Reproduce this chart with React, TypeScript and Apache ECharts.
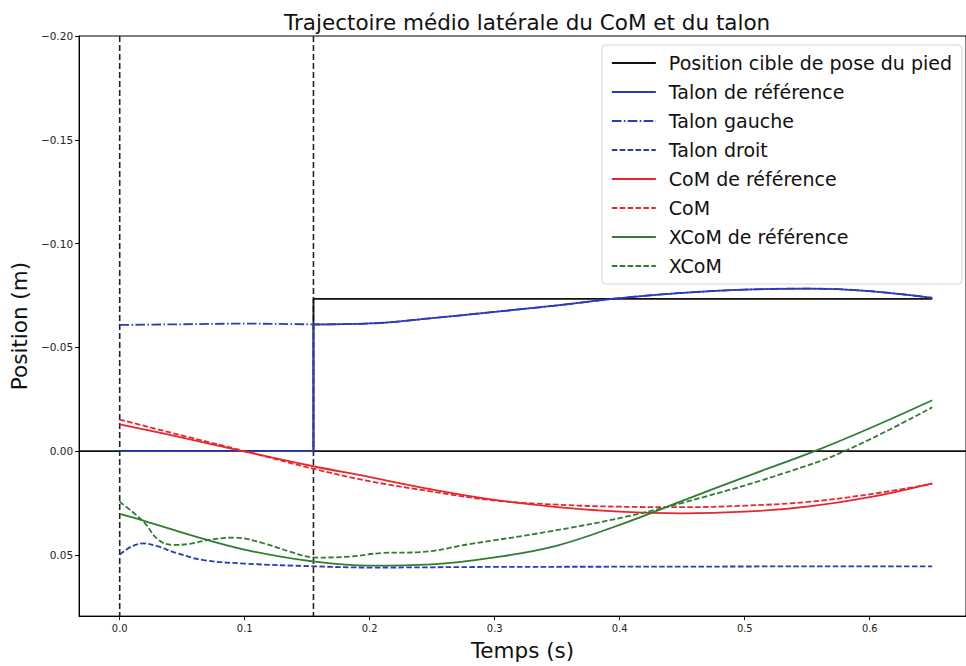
import React, { useEffect, useRef } from "react";
import * as echarts from "echarts";

// ---- Data ----
const xMin = -0.0325;
const xMax = 0.677;
const yMin = -0.2;
const yMax = 0.0795;

const eventTimes = [0, 0.155];
const zeroLevel = 0;

const targetT = [0, 0.155, 0.155, 0.65];
const targetY = [0, 0, -0.0733, -0.0733];

const heelRefStepT = [0, 0.155, 0.155];
const heelRefStepY = [0, 0, -0.061];
const heelRefT = [0.155, 0.2, 0.25, 0.3, 0.35, 0.4, 0.45, 0.5, 0.55, 0.6, 0.65];
const heelRefY = [-0.061, -0.0615, -0.0641, -0.0671, -0.0702, -0.0737, -0.0762, -0.0778, -0.0783, -0.0771, -0.0738];

const heelLeftT = [0, 0.05, 0.1, 0.155, 0.2, 0.25, 0.3, 0.35, 0.4, 0.45, 0.5, 0.55, 0.6, 0.65];
const heelLeftY = [-0.0608, -0.0611, -0.0614, -0.0611, -0.0615, -0.0641, -0.0671, -0.0702, -0.0737, -0.0762, -0.0778, -0.0783, -0.0771, -0.0738];

const heelRightT = [0, 0.01, 0.019, 0.03, 0.045, 0.067, 0.1, 0.155, 0.2, 0.3, 0.4, 0.5, 0.6, 0.65];
const heelRightY = [0.0499, 0.0458, 0.0445, 0.0458, 0.049, 0.0525, 0.0542, 0.0555, 0.0561, 0.0558, 0.0557, 0.0556, 0.0555, 0.0555];

const comRefT = [0, 0.05, 0.1, 0.155, 0.2, 0.25, 0.3, 0.35, 0.4, 0.45, 0.5, 0.55, 0.6, 0.65];
const comRefY = [-0.0129, -0.0065, 0.0002, 0.0073, 0.0125, 0.0185, 0.0235, 0.027, 0.0292, 0.03, 0.0292, 0.0268, 0.0222, 0.0155];

const comT = [0, 0.05, 0.1, 0.155, 0.2, 0.25, 0.3, 0.35, 0.4, 0.45, 0.5, 0.55, 0.6, 0.65];
const comY = [-0.0152, -0.0075, 0.0, 0.0085, 0.0145, 0.0195, 0.0238, 0.0258, 0.0268, 0.027, 0.0263, 0.0245, 0.0208, 0.0158];

const xcomRefT = [0, 0.02, 0.07, 0.107, 0.155, 0.2, 0.25, 0.3, 0.35, 0.4, 0.45, 0.5, 0.556, 0.6, 0.65];
const xcomRefY = [0.0303, 0.0337, 0.0428, 0.0484, 0.0532, 0.0552, 0.0546, 0.0512, 0.0455, 0.0355, 0.024, 0.0125, 0.0, -0.011, -0.0245];

const xcomT = [0, 0.019, 0.031, 0.043, 0.056, 0.071, 0.092, 0.115, 0.136, 0.157, 0.184, 0.21, 0.24, 0.28, 0.343, 0.405, 0.468, 0.53, 0.58, 0.65];
const xcomY = [0.0244, 0.034, 0.0428, 0.0452, 0.0447, 0.0428, 0.0417, 0.0444, 0.0484, 0.0513, 0.0508, 0.0491, 0.0487, 0.0448, 0.0388, 0.0316, 0.022, 0.0109, 0.0, -0.0211];

const zip = (t: number[], y: number[]) => t.map((v, i) => [v, y[i]]);

const FONT = "DejaVu Sans";
const NARROW = "'DejaVu Sans Condensed', 'Liberation Sans Narrow', 'DejaVu Sans'";
const BLUE = "#2a3bbd";
const RED = "#e8262d";
const GREEN = "#2f7d32";
const LW = 1.8;
const DASH = [5.5, 2.4];
const DASHDOT = [9.6, 2.4, 1.5, 2.4];

const legendNames = [
  "Position cible de pose du pied",
  "Talon de référence",
  "Talon gauche",
  "Talon droit",
  "CoM de référence",
  "CoM",
  "XCoM de référence",
  "XCoM",
];

export default function App() {
  const ref = useRef<HTMLDivElement>(null);
  useEffect(() => {
    if (!ref.current) return;
    const chart = echarts.init(ref.current, undefined, { renderer: "svg" });
    const line = (name: string, data: number[][], color: string, type: any, smooth: boolean | number, z = 2) => ({
      name,
      type: "line",
      data,
      smooth,
      symbol: "none",
      z,
      lineStyle: { color, width: LW, type },
      itemStyle: { color },
    });
    chart.setOption({
      animation: false,
      textStyle: { fontFamily: FONT },
      title: {
        text: "Trajectoire médio latérale du CoM et du talon",
        left: 279,
        top: 6,
        textStyle: { fontFamily: FONT, fontSize: 21.5, fontWeight: "normal", color: "#111" },
      },
      legend: {
        orient: "vertical",
        right: 4,
        top: 45,
        padding: [8, 10, 8, 9],
        itemGap: 9,
        itemWidth: 44,
        itemHeight: 12,
        backgroundColor: "rgba(255,255,255,0.9)",
        borderColor: "#d4d4d4",
        borderWidth: 1,
        borderRadius: 4,
        itemStyle: { opacity: 0 },
        textStyle: { fontFamily: FONT, fontSize: 19, lineHeight: 20, color: "#111", padding: [0, 0, 0, 8] },
        data: legendNames,
      },
      grid: { left: 76, right: 0, top: 36, bottom: 46, show: true, borderColor: "#000", borderWidth: 1 },
      xAxis: {
        type: "value",
        min: xMin,
        max: xMax,
        splitNumber: 7,
        name: "Temps (s)",
        nameLocation: "middle",
        nameGap: 18,
        nameTextStyle: { fontFamily: FONT, fontSize: 21.5, color: "#111", verticalAlign: "top" },
        axisLine: { onZero: false, lineStyle: { color: "#000", width: 1 } },
        axisTick: { show: true, inside: false, length: 4, lineStyle: { color: "#000" } },
        axisLabel: {
          fontFamily: NARROW,
          fontSize: 11,
          color: "#222",
          margin: 7,
          showMinLabel: false,
          showMaxLabel: false,
          formatter: (v: number) => (Math.abs(v * 10 - Math.round(v * 10)) < 1e-6 ? v.toFixed(1) : ""),
        },
        splitLine: { show: false },
      },
      yAxis: {
        type: "value",
        inverse: true,
        min: yMin,
        max: yMax,
        interval: 0.05,
        name: "Position (m)",
        nameLocation: "middle",
        nameGap: 39,
        nameRotate: 90,
        nameTextStyle: { fontFamily: FONT, fontSize: 21.5, color: "#111" },
        axisLine: { show: true, onZero: false, lineStyle: { color: "#000", width: 1 } },
        axisTick: { show: true, inside: false, length: 4, lineStyle: { color: "#000" } },
        axisLabel: {
          fontFamily: FONT,
          fontSize: 10.5,
          color: "#222",
          margin: 6,
          showMaxLabel: false,
          formatter: (v: number) =>
            Math.abs(v * 20 - Math.round(v * 20)) < 1e-6 ? (v < -1e-9 ? "\u2212" : "") + Math.abs(v).toFixed(2) : "",
        },
        splitLine: { show: false },
      },
      series: [
        ...eventTimes.map((t, i) => ({
          name: "event" + i,
          type: "line",
          data: [[t, yMin], [t, yMax]],
          symbol: "none",
          silent: true,
          z: 1,
          lineStyle: { color: "#222", width: 1.6, type: [6, 3] },
        })),
        {
          name: "zero",
          type: "line",
          data: [[xMin, zeroLevel], [xMax, zeroLevel]],
          symbol: "none",
          silent: true,
          z: 1,
          lineStyle: { color: "#111", width: 1.6, type: "solid" },
        },
        line("Position cible de pose du pied", zip(targetT, targetY), "#111", "solid", false, 2),
        line("Talon de référence", zip(heelRefStepT, heelRefStepY), BLUE, "solid", false, 3),
        line("Talon de référence", zip(heelRefT, heelRefY), BLUE, "solid", 0.4, 3),
        line("Talon gauche", zip(heelLeftT, heelLeftY), BLUE, DASHDOT, 0.4, 3),
        line("Talon droit", zip(heelRightT, heelRightY), BLUE, DASH, 0.4, 3),
        line("CoM de référence", zip(comRefT, comRefY), RED, "solid", 0.4, 3),
        line("CoM", zip(comT, comY), RED, DASH, 0.4, 3),
        line("XCoM de référence", zip(xcomRefT, xcomRefY), GREEN, "solid", 0.4, 3),
        line("XCoM", zip(xcomT, xcomY), GREEN, DASH, 0.4, 3),
      ],
    });
    return () => chart.dispose();
  }, []);
  return <div ref={ref} style={{ position: "fixed", left: 0, top: 0, width: 966, height: 666, background: "#fff" }} />;
}
